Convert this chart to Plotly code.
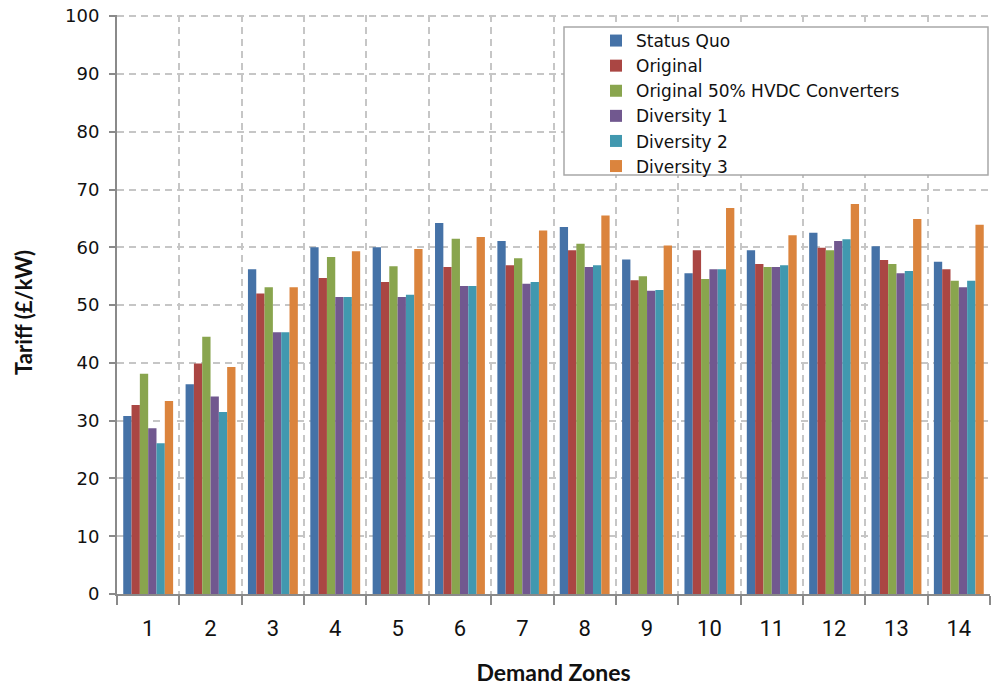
import plotly.graph_objects as go

zones = [str(i) for i in range(1, 15)]

status_quo = [30.8, 36.3, 56.2, 60.0, 60.0, 64.2, 61.1, 63.5, 57.9, 55.5, 59.5, 62.5, 60.2, 57.5]
original = [32.7, 39.9, 52.0, 54.7, 54.0, 56.6, 56.9, 59.5, 54.3, 59.5, 57.1, 59.9, 57.8, 56.2]
original_50_hvdc = [38.1, 44.5, 53.1, 58.3, 56.7, 61.5, 58.1, 60.6, 55.0, 54.5, 56.6, 59.5, 57.1, 54.2]
diversity_1 = [28.7, 34.2, 45.3, 51.4, 51.4, 53.3, 53.7, 56.6, 52.5, 56.2, 56.6, 61.1, 55.5, 53.1]
diversity_2 = [26.1, 31.5, 45.3, 51.4, 51.8, 53.3, 54.0, 56.9, 52.6, 56.2, 56.9, 61.4, 55.9, 54.2]
diversity_3 = [33.4, 39.3, 53.1, 59.3, 59.7, 61.8, 62.9, 65.5, 60.3, 66.8, 62.1, 67.5, 64.9, 63.9]

series_names = ["Status Quo", "Original", "Original 50% HVDC Converters",
                "Diversity 1", "Diversity 2", "Diversity 3"]
series_values = [status_quo, original, original_50_hvdc, diversity_1, diversity_2, diversity_3]
colors = ["#4572A7", "#AA4643", "#89A54E", "#71588F", "#4198AF", "#DB843D"]

W, H = 994, 686
ml, mr, mt, mb = 117, 4, 15, 92
pw, ph = W - ml - mr, H - mt - mb

def px_x(x):
    return (x - ml) / pw

def px_y(y):
    return (H - mb - y) / ph

fig = go.Figure()
for name, vals, col in zip(series_names, series_values, colors):
    fig.add_trace(go.Bar(x=zones, y=vals, name=name, marker=dict(color=col, line=dict(width=0))))

grid_col = "#c6c6c6"
axis_col = "#8a8a8a"
title_font = "Liberation Sans Narrow, Arial Narrow, Lato, sans-serif"

fig.update_layout(
    width=W, height=H,
    margin=dict(l=ml, r=mr, t=mt, b=mb, pad=0, autoexpand=False),
    plot_bgcolor="white", paper_bgcolor="white",
    barmode="group", bargap=0.2, bargroupgap=0,
    showlegend=True,
    legend=dict(
        x=px_x(596), y=px_y(23), xanchor="left", yanchor="top",
        xref="paper", yref="paper",
        bgcolor="rgba(0,0,0,0)", borderwidth=0,
        font=dict(family="DejaVu Sans, sans-serif", size=17, color="#111"),
        itemwidth=30, tracegroupgap=0,
    ),
    shapes=[dict(type="rect", xref="paper", yref="paper",
                 x0=px_x(564), x1=px_x(988), y0=px_y(175), y1=px_y(27),
                 line=dict(color="#a8a8a8", width=1.5), fillcolor="white", layer="above")],
    annotations=[dict(text="<b>Tariff (£/kW)</b>", xref="paper", yref="paper",
                      x=px_x(23), y=px_y(313), textangle=-90, showarrow=False,
                      xanchor="center", yanchor="middle",
                      font=dict(family=title_font, size=22, color="#111"))],
    xaxis=dict(
        type="category", tickson="boundaries", automargin=False,
        showgrid=True, gridcolor=grid_col, gridwidth=1.5, griddash="7px,5px",
        showline=True, linecolor=axis_col, linewidth=2,
        ticks="outside", ticklen=9, tickcolor=axis_col, tickwidth=1.5,
        ticklabelstandoff=14,
        tickfont=dict(family="Liberation Sans Narrow, Arial Narrow, Roboto, sans-serif", size=22, color="#111"),
        title=dict(text="<b>Demand Zones</b>", standoff=27,
                   font=dict(family=title_font, size=23, color="#111")),
    ),
    yaxis=dict(
        range=[0, 100.2], tickvals=[0, 10, 20, 30, 40, 50, 60, 70, 80, 90, 100],
        automargin=False,
        showgrid=True, gridcolor=grid_col, gridwidth=1.5, griddash="7px,5px",
        showline=True, linecolor=axis_col, linewidth=2,
        ticks="outside", ticklen=6, tickcolor=axis_col, tickwidth=1.5,
        ticklabelstandoff=6, ticklabeloverflow="allow",
        tickfont=dict(family="DejaVu Sans, Verdana, sans-serif", size=18, color="#111"),
        zeroline=False,
    ),
)

# remove the browser's default 8px body margin so the figure fills the window exactly
fig.write_html("out.html",
               config={"displayModeBar": False},
               post_script="document.body.style.margin='0px';document.body.style.overflow='hidden';")
